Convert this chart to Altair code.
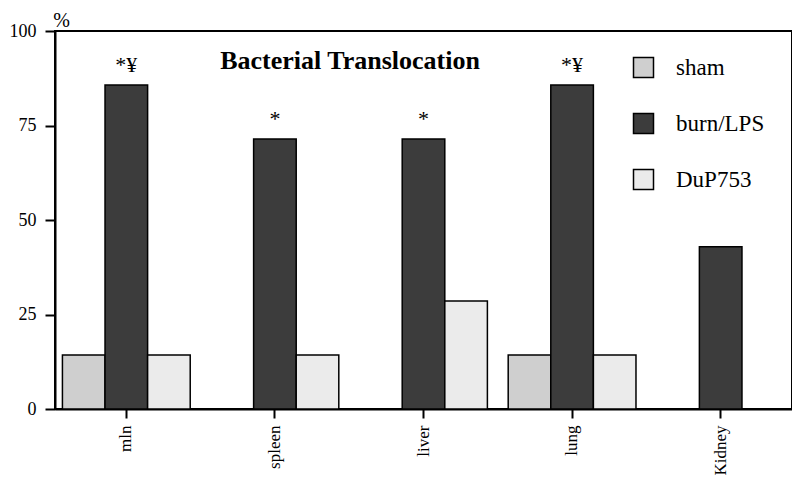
import altair as alt
import pandas as pd

categories = ["mln", "spleen", "liver", "lung", "Kidney"]
groups = ["sham", "burn/LPS", "DuP753"]
sham = [14.3, 0, 0, 14.3, 0]
burn = [85.7, 71.4, 71.4, 85.7, 42.9]
dup = [14.3, 14.3, 28.6, 14.3, 0]
sig = ["*¥", "*", "*", "*¥", ""]
fills = ["#cfcfcf", "#3c3c3c", "#ebebeb"]
title_text = "Bacterial Translocation"

rows = []
for i, c in enumerate(categories):
    for g, vals in zip(groups, [sham, burn, dup]):
        rows.append({"category": c, "group": g, "value": vals[i]})
df = pd.DataFrame(rows)

sig_df = pd.DataFrame({"category": categories, "group": ["burn/LPS"] * 5,
                       "value": burn, "sig": sig})

SERIF = "Liberation Serif"

x_enc = alt.X(
    "category:N", sort=categories,
    scale=alt.Scale(domain=categories, paddingInner=0.14, paddingOuter=0.05),
    axis=alt.Axis(title=None, labelAngle=270, labelFont=SERIF, labelFontSize=17,
                  labelColor="black", labelPadding=7, tickSize=9, tickWidth=2,
                  tickColor="black", domainColor="black", domainWidth=2),
)
xoff = alt.XOffset("group:N", sort=groups,
                   scale=alt.Scale(domain=groups, paddingInner=0, paddingOuter=0))
y_enc = alt.Y(
    "value:Q", scale=alt.Scale(domain=[0, 100]),
    axis=alt.Axis(values=[0, 25, 50, 75, 100], title="%", titleAngle=0,
                  titleFont=SERIF, titleFontSize=20, titleFontWeight="normal",
                  titleColor="black", titleX=6, titleY=-5, titleAlign="center",
                  titleBaseline="alphabetic",
                  labelFont=SERIF, labelFontSize=18, labelColor="black",
                  labelPadding=9, tickSize=10, tickWidth=2, tickColor="black",
                  domainColor="black", domainWidth=2, grid=False),
)

bars = alt.Chart(df).transform_filter("datum.value > 0").mark_bar(
    stroke="black", strokeWidth=1.5, opacity=1
).encode(
    x=x_enc, xOffset=xoff, y=y_enc,
    color=alt.Color("group:N", sort=groups,
                    scale=alt.Scale(domain=groups, range=fills),
                    legend=alt.Legend(title=None, orient="none", legendX=577, legendY=25,
                                      symbolType="square", symbolSize=400,
                                      symbolStrokeColor="black", symbolStrokeWidth=1.5,
                                      symbolOpacity=1,
                                      labelFont=SERIF, labelFontSize=23, labelColor="black",
                                      labelOffset=21, rowPadding=29, padding=0)),
)

stars = alt.Chart(sig_df).mark_text(
    font=SERIF, fontSize=22, baseline="alphabetic", dy=-13, color="black"
).encode(x=alt.X("category:N", sort=categories), xOffset=xoff, y="value:Q", text="sig:N")

title = alt.Chart(pd.DataFrame({"t": [title_text]})).mark_text(
    font=SERIF, fontSize=26, fontWeight="bold", baseline="alphabetic", color="black"
).encode(x=alt.value(295), y=alt.value(38), text="t:N")

chart = alt.layer(bars, stars, title).properties(
    width=737, height=378,
    autosize=alt.AutoSizeParams(type="none"),
    padding={"left": 47, "top": 23, "right": 0, "bottom": 70},
).configure_view(stroke="black", strokeWidth=2).configure_axis(grid=False)

chart.save("out.html", embed_options={"renderer": "svg", "actions": False})
